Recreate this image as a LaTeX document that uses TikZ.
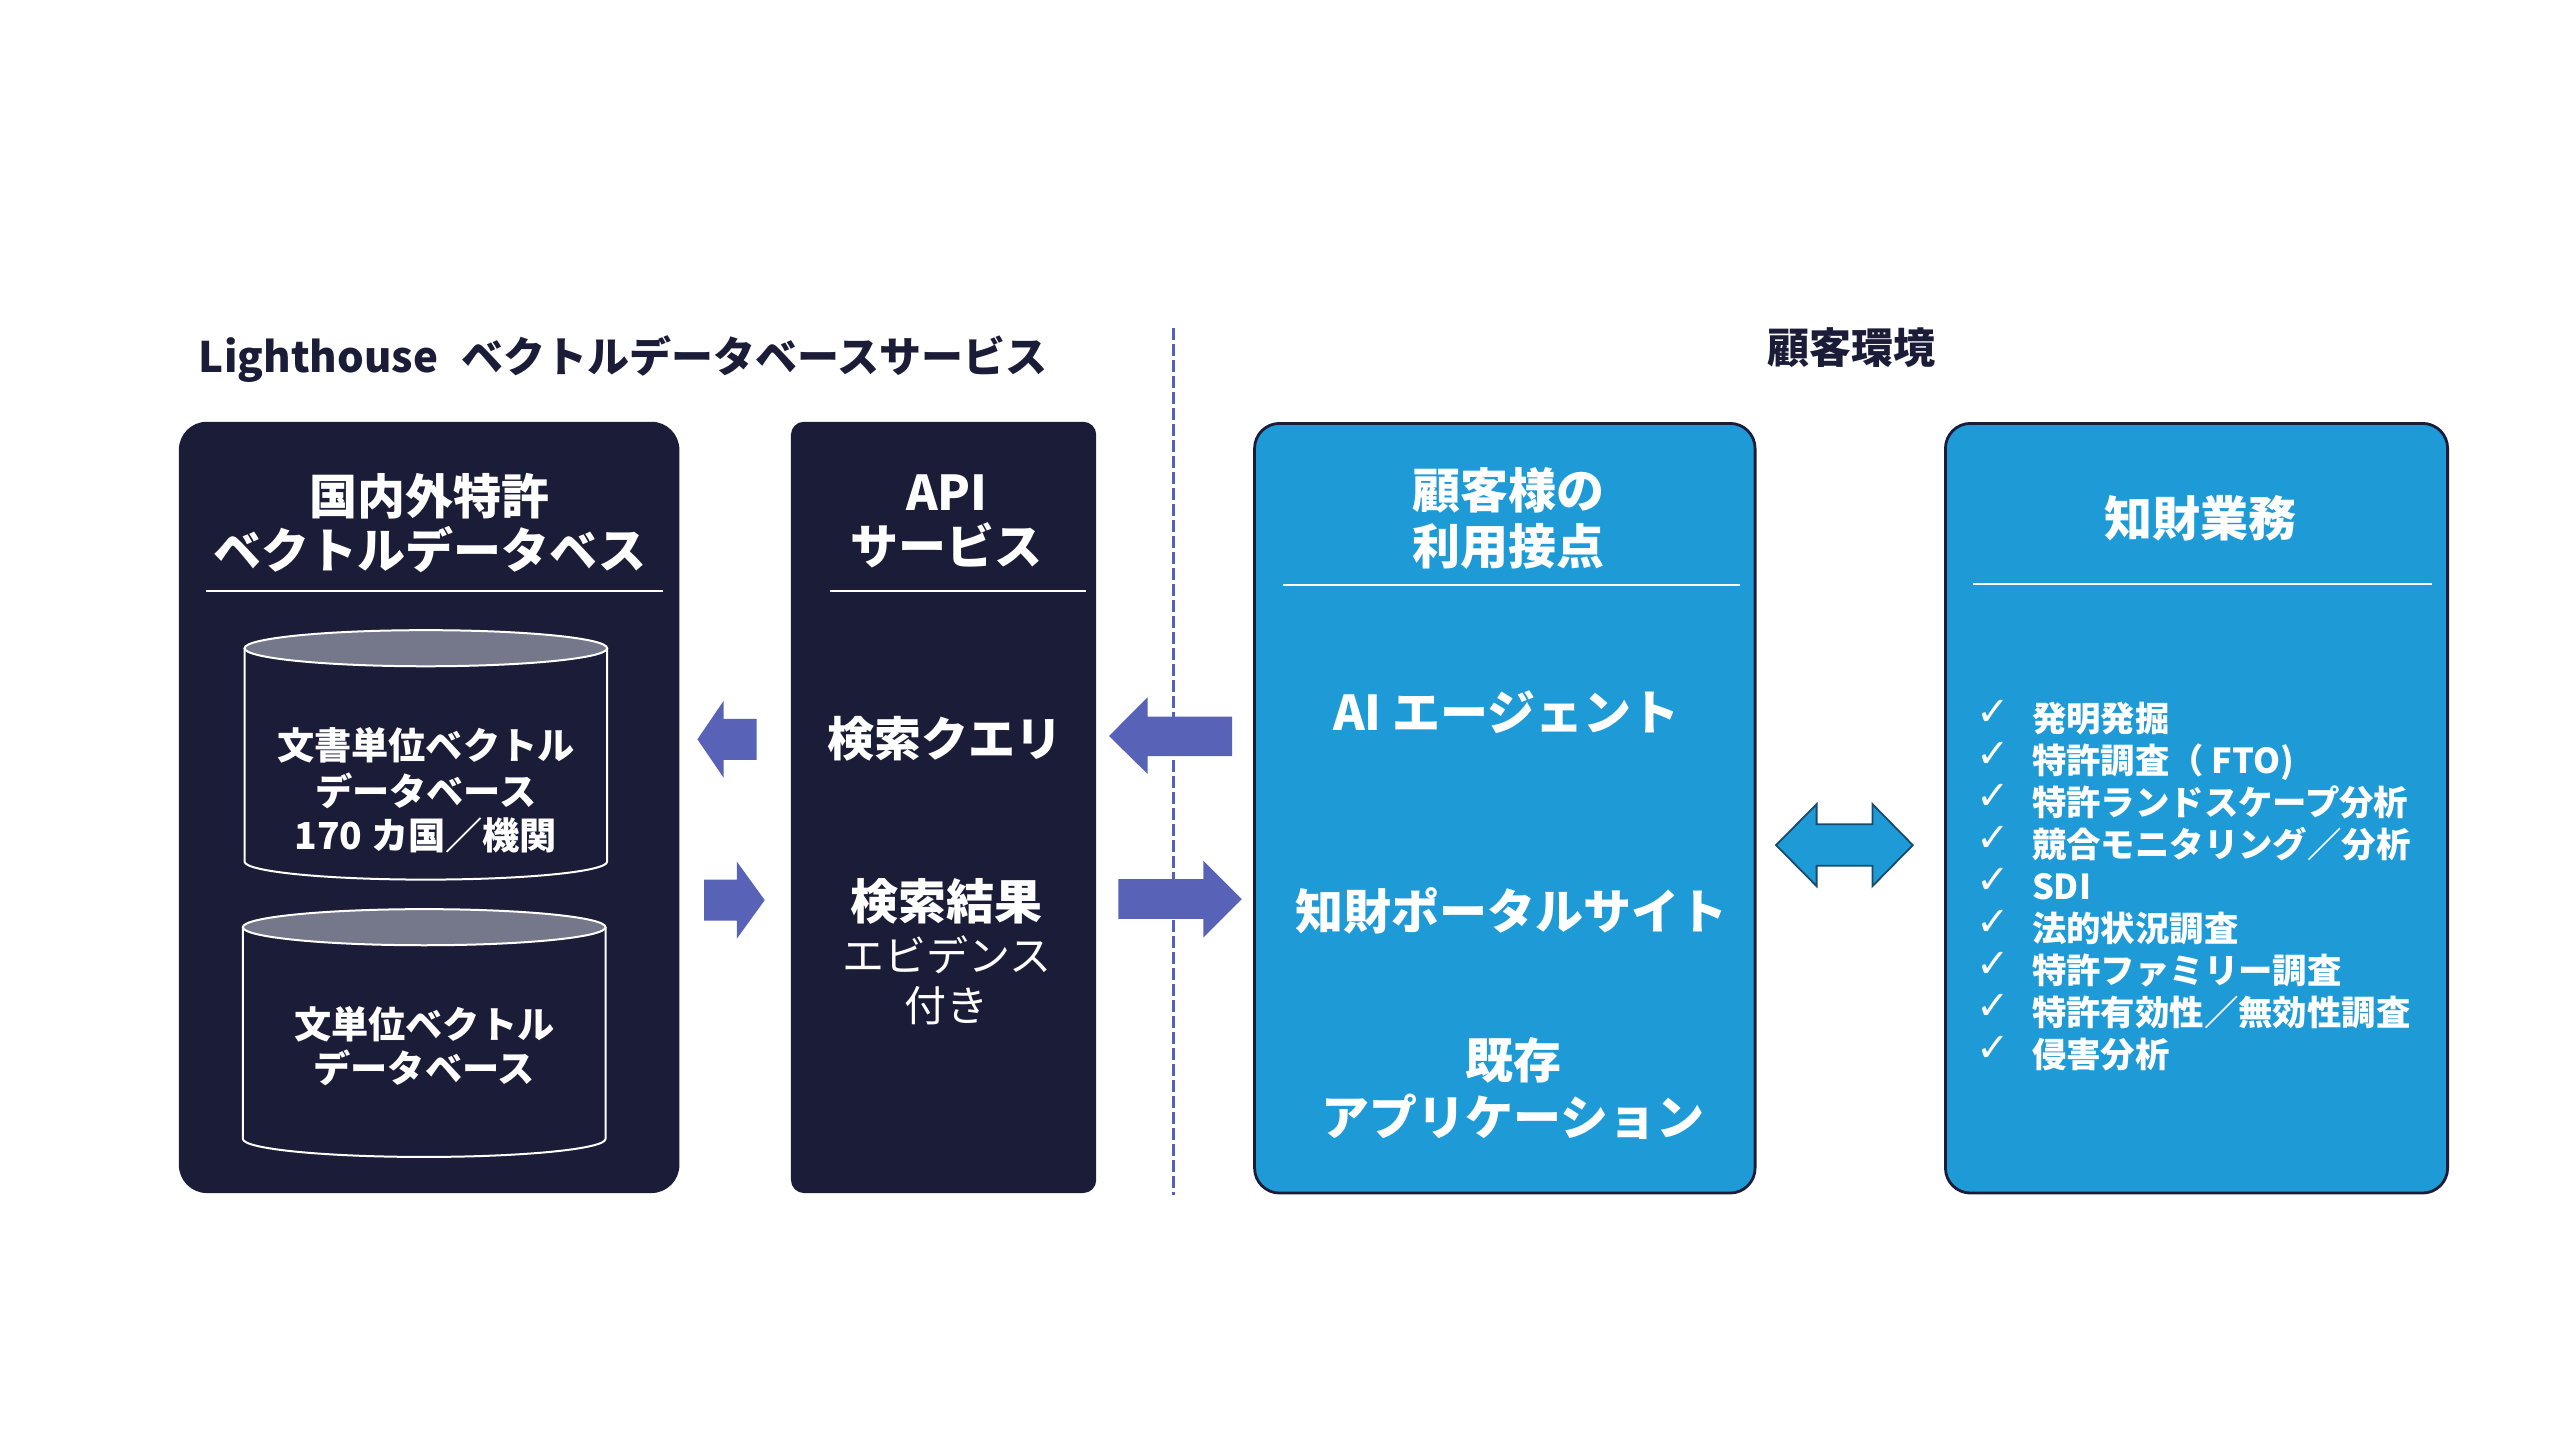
\documentclass[tikz,border=0pt]{standalone}
\usepackage{fontspec}
\setmainfont{Noto Sans CJK JP}
\newfontfamily\symfont{DejaVu Sans}
\definecolor{navy}{HTML}{1B1D38}
\definecolor{sky}{HTML}{1E9BD7}
\definecolor{arrowc}{HTML}{5862B6}
\definecolor{dashc}{HTML}{5560B8}
\definecolor{cylgray}{HTML}{75778A}
\definecolor{dblstroke}{HTML}{174A6E}
\def\U{0.8205pt}
\begin{document}
\begin{tikzpicture}[x=0.8205pt, y=-0.8205pt,
  darkbox/.style={rectangle, fill=navy, inner sep=0},
  bluebox/.style={rectangle, fill=sky, draw=navy, line width=1.4pt, rounded corners=12.5pt, inner sep=0},
  sepline/.style={draw=white, line width=1pt},
  cylline/.style={draw=white, line width=1pt},
  blockarrow/.style={fill=arrowc, draw=none},
  tx/.style={inner sep=0, anchor=center, text=white},
  f24/.style={font=\bfseries\fontsize{24pt}{28pt}\selectfont, text height=21.12pt, text depth=2.88pt},
  f235/.style={font=\bfseries\fontsize{23.5pt}{28pt}\selectfont, text height=20.68pt, text depth=2.82pt},
  f21r/.style={font=\fontsize{21pt}{25pt}\selectfont, text height=18.48pt, text depth=2.52pt},
  f21b/.style={font=\bfseries\fontsize{21pt}{25pt}\selectfont, text height=18.48pt, text depth=2.52pt},
  f186/.style={font=\bfseries\fontsize{18.6pt}{22pt}\selectfont, text height=16.37pt, text depth=2.23pt},
  f172/.style={font=\bfseries\fontsize{17.2pt}{21pt}\selectfont, text height=15.14pt, text depth=2.06pt, anchor=west},
  chk/.style={inner sep=0, anchor=west, text=white, font=\symfont\fontsize{20pt}{24pt}\selectfont, text height=17.6pt, text depth=2.4pt}
]
\useasboundingbox (0,0) rectangle (1560,877.5);

% section titles
\node[tx, f21b, text=navy, anchor=west] (title) at (121,217) {Lighthouse\hspace{0.55em}ベクトルデータベースサービス};
\node[tx, f21b, text=navy] (kkk) at (1128,212) {顧客環境};

% dashed divider
\coordinate (dtop) at (715,200);
\coordinate (dbot) at (715,728);
\draw[dashc, line width=1.7pt, dash pattern=on 6pt off 2pt] (dtop) -- (dbot);

% boxes
\node[darkbox, rounded corners=14pt, minimum width=305*\U, minimum height=470*\U] (lbox) at (261.5,492) {};
\node[darkbox, rounded corners=6.5pt, minimum width=186*\U, minimum height=470*\U] (apibox) at (575,492) {};
\node[bluebox, minimum width=305*\U, minimum height=469*\U] (box1) at (917,492.5) {};
\node[bluebox, minimum width=306*\U, minimum height=469*\U] (box2) at (1338.5,492.5) {};

% left box header
\node[tx, f24] (lh1) at (262,302.6) {国内外特許};
\node[tx, f24] (lh2) at (262,335) {ベクトルデータベス};
\coordinate (ls1) at (125.6,360); \coordinate (ls2) at (404,360);
\draw[sepline] (ls1) -- (ls2);

% cylinder 1
\draw[cylline] (149,395) -- (149,525) arc[start angle=180, end angle=0, x radius=110.5, y radius=11] -- (370,395);
\draw[cylline, fill=cylgray] (259.5,395) ellipse[x radius=110.5, y radius=11];
\node[tx, f186] (c1) at (259.5,454) {文書単位ベクトル};
\node[tx, f186] (c2) at (259.5,482) {データベース};
\node[tx, f186] (c3) at (259.5,509) {170 カ国／機関};

% cylinder 2
\draw[cylline] (148,565) -- (148,694) arc[start angle=180, end angle=0, x radius=110.5, y radius=11] -- (369,565);
\draw[cylline, fill=cylgray] (258.5,565) ellipse[x radius=110.5, y radius=11];
\node[tx, f186] (d1) at (258.5,624) {文単位ベクトル};
\node[tx, f186] (d2) at (258.5,651) {データベース};

% API box
\node[tx, f24] (ah1) at (577,300) {API};
\node[tx, f24] (ah2) at (577,333) {サービス};
\coordinate (as1) at (505.5,360); \coordinate (as2) at (662,360);
\draw[sepline] (as1) -- (as2);
\node[tx, f235] (query) at (576,450) {検索クエリ};
\node[tx, f24] (res1) at (577,549) {検索結果};
\node[tx, f21r] (res2) at (577,582) {エビデンス};
\node[tx, f21r] (res3) at (577,613) {付き};

% small arrows
\fill[blockarrow] (425,450.5) -- (441,427) -- (441,438) -- (461,438) -- (461,463) -- (441,463) -- (441,474) -- cycle;
\fill[blockarrow] (429,536) -- (449,536) -- (449,525) -- (466,548.5) -- (449,572) -- (449,561) -- (429,561) -- cycle;
% big arrows
\fill[blockarrow] (675.8,448.5) -- (699.4,424.8) -- (699.4,436.7) -- (750.8,436.7) -- (750.8,460.7) -- (699.4,460.7) -- (699.4,471.7) -- cycle;
\fill[blockarrow] (681.5,535.7) -- (733.3,535.7) -- (733.3,524.5) -- (756.7,547.9) -- (733.3,571.2) -- (733.3,560) -- (681.5,560) -- cycle;

% box1 content
\node[tx, f24] (b1h1) at (919,299) {顧客様の};
\node[tx, f24] (b1h2) at (919,333) {利用接点};
\coordinate (bs1) at (782,356.5); \coordinate (bs2) at (1060,356.5);
\draw[sepline] (bs1) -- (bs2);
\node[tx, f24] (ai) at (918,434) {AI エージェント};
\node[tx, f24] (portal) at (921,555) {知財ポータルサイト};
\node[tx, f24] (app1) at (922,646) {既存};
\node[tx, f24] (app2) at (922,681) {アプリケーション};

% double arrow
\filldraw[fill=sky, draw=dblstroke, line width=0.9pt, line join=miter]
  (1082.3,515) -- (1107,490) -- (1107,502.3) -- (1141,502.3) -- (1141,490) -- (1165.6,515)
  -- (1141,540) -- (1141,527.5) -- (1107,527.5) -- (1107,540) -- cycle;

% box2 content
\node[tx, f24] (b2h) at (1341,316) {知財業務};
\coordinate (cs1) at (1202.5,356); \coordinate (cs2) at (1482,356);
\draw[sepline] (cs1) -- (cs2);

\foreach \t [count=\i from 0] in {発明発掘, 特許調査（ FTO), 特許ランドスケープ分析, 競合モニタリング／分析, SDI, 法的状況調査, 特許ファミリー調査, 特許有効性／無効性調査, 侵害分析}{
  \node[chk] (ck\i) at (1204,{438+25.6*\i-5}) {✓};
  \node[tx, f172] (it\i) at (1238,{438+25.6*\i}) {\t};
}
\end{tikzpicture}
\end{document}
